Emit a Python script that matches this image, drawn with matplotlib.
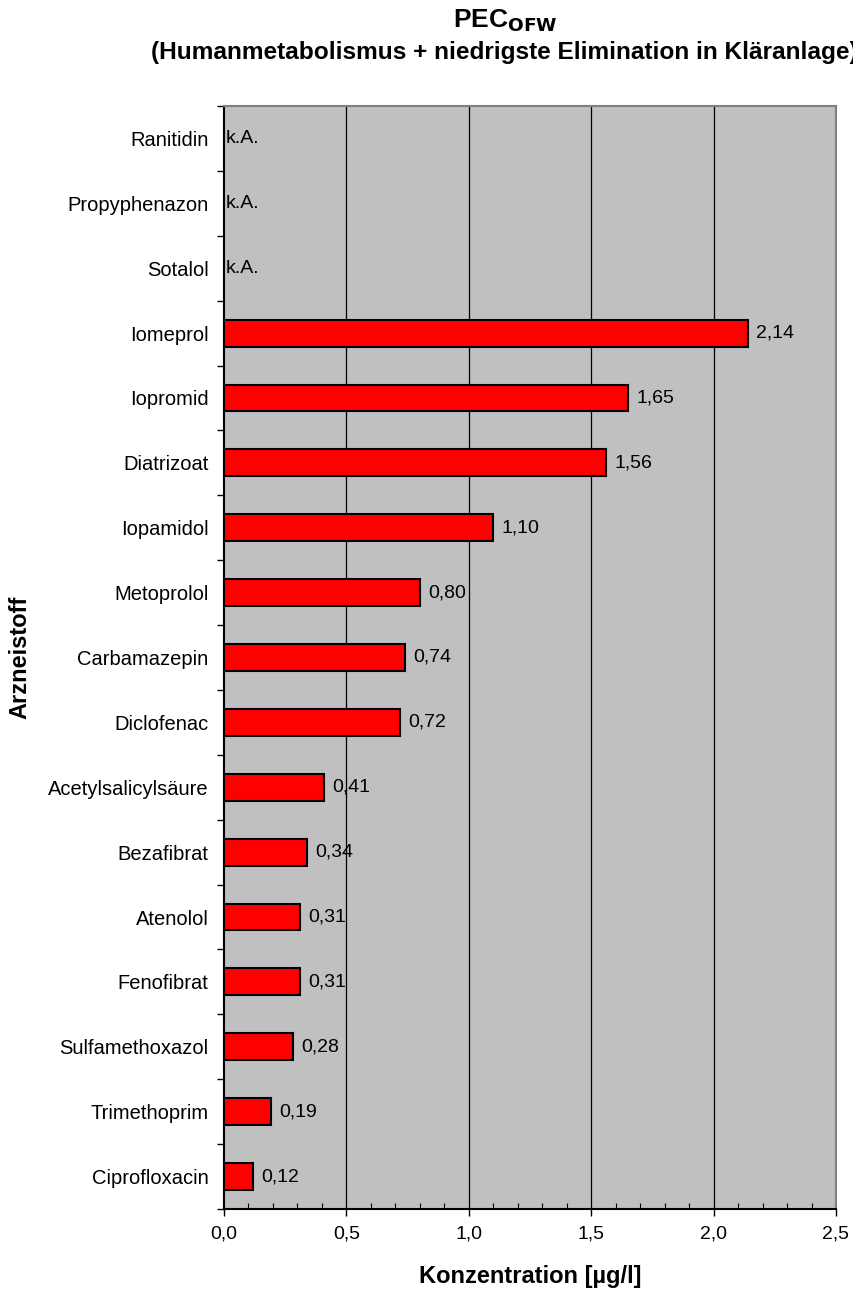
import matplotlib
matplotlib.use("Agg")
import matplotlib.pyplot as plt
from matplotlib.ticker import MultipleLocator, FixedLocator, FuncFormatter
import numpy as np

plt.rcParams['font.family'] = ['Liberation Sans', 'DejaVu Sans']

substances = ["Ranitidin", "Propyphenazon", "Sotalol", "Iomeprol", "Iopromid",
              "Diatrizoat", "Iopamidol", "Metoprolol", "Carbamazepin", "Diclofenac",
              "Acetylsalicylsäure", "Bezafibrat", "Atenolol", "Fenofibrat",
              "Sulfamethoxazol", "Trimethoprim", "Ciprofloxacin"]
pec_values = [None, None, None, 2.14, 1.65, 1.56, 1.10, 0.80, 0.74, 0.72,
              0.41, 0.34, 0.31, 0.31, 0.28, 0.19, 0.12]
x_ticks = [0.0, 0.5, 1.0, 1.5, 2.0, 2.5]

W, H = 854, 1290
fig = plt.figure(figsize=(W / 100, H / 100), dpi=100)
ax = fig.add_axes([224 / W, 1 - 1209 / H, (836 - 224) / W, (1209 - 106) / H])
ax.set_facecolor("#C0C0C0")

y = np.arange(len(substances))
for yi, v in zip(y, pec_values):
    if v is None:
        ax.annotate("k.A.", (0, yi), xytext=(1, 0), textcoords="offset points",
                    va="center", ha="left", fontsize=14)
    else:
        ax.barh(yi, v, height=0.415, color="#FF0000", edgecolor="black",
                linewidth=1.5, zorder=3)
        ax.annotate(f"{v:.2f}".replace(".", ","), (v, yi), xytext=(6, 0),
                    textcoords="offset points", va="center", ha="left",
                    fontsize=14, zorder=4)

ax.set_xlim(0, 2.5)
ax.set_ylim(len(substances) - 0.5, -0.5)

ax.set_xticks(x_ticks)
ax.xaxis.set_major_formatter(FuncFormatter(lambda v, p: f"{v:.1f}".replace(".", ",")))
ax.xaxis.set_minor_locator(MultipleLocator(0.1))
ax.tick_params(axis="x", which="major", direction="out", length=5, width=1,
               labelsize=14, pad=7)
ax.tick_params(axis="x", which="minor", direction="in", length=4, width=0.8)

ax.set_yticks(y)
ax.set_yticklabels(substances)
ax.yaxis.set_minor_locator(FixedLocator(np.arange(-0.5, len(substances), 1.0)))
ax.tick_params(axis="y", which="major", length=0, labelsize=14.5, pad=11)
ax.tick_params(axis="y", which="minor", direction="out", length=5, width=1)

for xv in x_ticks[1:-1]:
    ax.axvline(xv, color="black", linewidth=0.9, zorder=1)

ax.spines["left"].set_color("black")
ax.spines["bottom"].set_color("black")
ax.spines["top"].set_color("#808080")
ax.spines["right"].set_color("#808080")
for s in ax.spines.values():
    s.set_linewidth(1.5)

fig.text(530 / W, 1 - 1276 / H, "Konzentration [µg/l]", ha="center", va="center",
         fontsize=17, fontweight="bold")
fig.text(20 / W, 1 - 657 / H, "Arzneistoff", ha="center", va="center",
         rotation=90, fontsize=17, fontweight="bold")

fig.text(505 / W, 1 - 21 / H, r"PEC$_\mathbf{OFW}$", ha="center", va="center",
         fontsize=19, fontweight="bold")
fig.text(151 / W, 1 - 53 / H,
         "(Humanmetabolismus + niedrigste Elimination in Kläranlage)",
         ha="left", va="center", fontsize=17.6, fontweight="bold")

fig.savefig("out.png", dpi=100)
